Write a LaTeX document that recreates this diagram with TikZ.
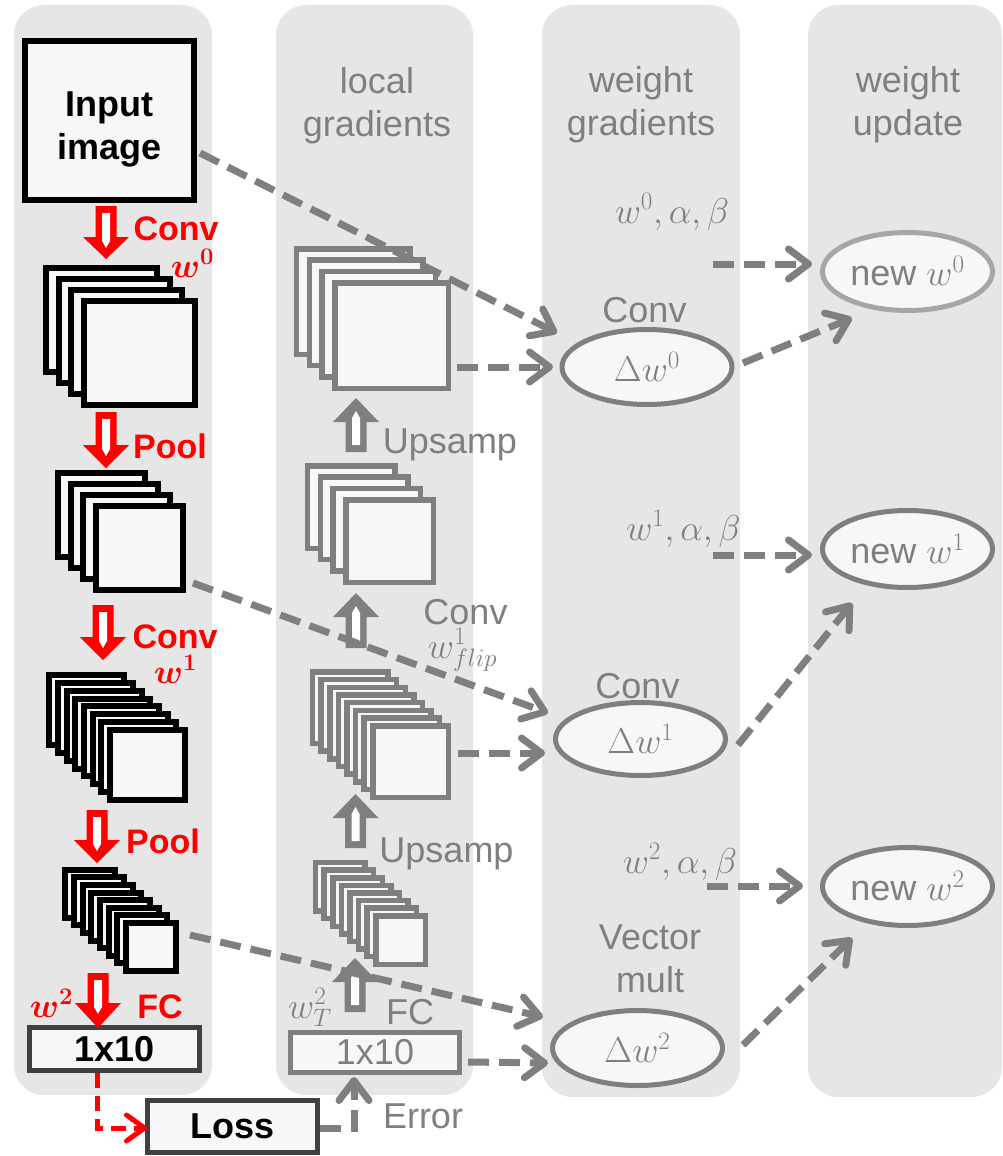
\RequirePackage{fix-cm}
\documentclass[tikz,border=0pt]{standalone}
\usepackage{amsmath}
\usepackage[no-math]{fontspec}
\setmainfont{Liberation Sans}
\usetikzlibrary{arrows.meta,shapes.geometric,calc}

\definecolor{panel}{HTML}{E6E6E6}
\definecolor{paper}{HTML}{F7F7F7}
\definecolor{ink}{HTML}{7F7F7F}
\definecolor{dark}{HTML}{404040}
\definecolor{pale}{HTML}{A6A6A6}

% stack of feature maps: name, style, back count, cx, cy, w, h, dx, dy
\newcommand{\featstack}[9]{%
  \foreach \k in {#3,...,1}{%
    \draw[#2] ({#4-\k*#8-#6/2},{#5-\k*#9-#7/2}) rectangle ++(#6,#7);
  }
  \node[#2, rectangle, minimum width=#6, minimum height=#7] (#1) at (#4,#5) {};
}

% hollow block arrow: colour, x, tail, head base, tip, direction (1 down, -1 up)
\newcommand{\blockarrow}[6]{%
  \fill[#1] ({#2-10.5},#3) -- ({#2-10.5},#4) -- ({#2-23},#4) -- (#2,#5)
    -- ({#2+23},#4) -- ({#2+10.5},#4) -- ({#2+10.5},#3) -- cycle;
  \fill[white] ({#2-4},{#3+7*(#6)}) -- ({#2-4},{#4+4*(#6)}) -- (#2,{#4+11*(#6)})
    -- ({#2+4},{#4+4*(#6)}) -- ({#2+4},{#3+7*(#6)}) -- cycle;
}

\begin{document}
\begin{tikzpicture}[x=1pt,y=-1pt,
  every node/.style={inner sep=0pt},
  txt/.style={font=\fontsize{36}{43}\selectfont, text=ink},
  btxt/.style={font=\bfseries\fontsize{36}{43}\selectfont, text=black},
  rtxt/.style={font=\bfseries\fontsize{34}{41}\selectfont, text=red},
  box/.style={rectangle, fill=paper, line width=5pt},
  oval/.style={ellipse, fill=paper, draw=ink, line width=5pt, minimum width=170pt, txt},
  bsq/.style={draw=black, fill=paper, line width=6pt},
  gsq/.style={draw=ink, fill=paper, line width=5.5pt},
  flow/.style={draw=ink, line width=7pt, dash pattern=on 21pt off 10pt,
    -{Straight Barb[length=20pt,width=30pt,round]}},
  lossflow/.style={draw=red, line width=5pt, dash pattern=on 15pt off 8pt,
    -{Straight Barb[length=18pt,width=26pt,round]}}]

\useasboundingbox (0,0) rectangle (1002,1156);

% column backgrounds
\fill[panel, rounded corners=30pt] (14,5) rectangle (212,1095);
\fill[panel, rounded corners=30pt] (276,5) rectangle (473,1095);
\fill[panel, rounded corners=30pt] (542,5) rectangle (740,1097);
\fill[panel, rounded corners=30pt] (808,5) rectangle (1002,1097);

% column headers
\node[txt, align=center] (hlocal) at (377,105.4) {local\\gradients};
\node[txt, align=center] (hgrad) at (641,104.4) {weight\\gradients};
\node[txt, align=center] (hupd) at (908,104.4) {weight\\update};

% forward pass
\node[box, draw=black, line width=6pt, minimum width=169pt, minimum height=159pt] (in) at (109.5,120.5) {};
\node[btxt, align=center] (intext) at (109.5,129.4) {Input\\image};
\featstack{s1}{bsq}{3}{139.5}{353}{111}{104}{12.7}{11}
\featstack{s2}{bsq}{3}{139.5}{548}{87}{84}{12.7}{11}
\featstack{s3}{bsq}{7}{147.5}{765}{75}{70}{8.7}{7.85}
\featstack{s4}{bsq}{7}{151}{947}{50}{48}{8.7}{7.6}
\node[box, draw=dark, minimum width=170pt, minimum height=43pt, btxt] (b10) at (114.5,1049) {1x10};
\node[box, draw=dark, minimum width=170pt, minimum height=52pt, btxt] (loss) at (232.5,1126.5) {Loss};

\blockarrow{red}{106}{206}{237}{259}{1}
\blockarrow{red}{106}{412}{445}{468}{1}
\blockarrow{red}{103}{605}{637}{660}{1}
\blockarrow{red}{97}{810}{840}{863}{1}
\blockarrow{red}{98}{973}{1003}{1028}{1}

% local gradients
\featstack{gD}{gsq}{3}{391.5}{335.5}{113.5}{105.5}{12.7}{11.3}
\featstack{gC}{gsq}{3}{389.5}{541}{87.5}{82.5}{12.7}{11.3}
\featstack{gB}{gsq}{7}{410.5}{761.5}{75.5}{71.5}{8.6}{7.7}
\featstack{gA}{gsq}{7}{400.5}{940}{49.5}{48.5}{8.6}{7.6}
\node[box, draw=ink, minimum width=169pt, minimum height=40pt, txt] (g10) at (375,1052.5) {1x10};

\blockarrow{ink}{355}{1012}{982}{958}{-1}
\blockarrow{ink}{355.5}{848}{818}{794}{-1}
\blockarrow{ink}{356}{648}{617}{593}{-1}
\blockarrow{ink}{356}{452}{422}{398}{-1}

% weight gradients and updates
\node[oval, minimum height=75pt] (d0) at (647,367) {$\Delta w^0$};
\node[oval, minimum height=73pt] (d1) at (640.5,739) {$\Delta w^1$};
\node[oval, minimum height=75pt] (d2) at (637.5,1048) {$\Delta w^2$};
\node[oval, draw=pale, minimum height=78pt] (n0) at (907.5,271.5) {new $w^0$};
\node[oval, minimum height=77pt] (n1) at (907.5,549) {new $w^1$};
\node[oval, minimum height=78pt] (n2) at (907.5,886.5) {new $w^2$};

\coordinate (q0) at (713,264);
\coordinate (q1) at (713,555);
\coordinate (q2) at (707,886);

% connectors
\draw[flow] ($(in.east)+(3,32.5)$) -- ($(d0.west)+(-2.5,-34)$);
\draw[flow] ($(gD.east)+(6,31.5)$) -- ($(d0.west)+(-6.5,0)$);
\draw[flow] ($(s2.east)+(7,35)$) -- ($(d1.west)+(-5,-26)$);
\draw[flow] ($(gB.east)+(7,-8.5)$) -- ($(d1.west)+(-8,14)$);
\draw[flow] ($(s4.east)+(11,-12)$) -- ($(d2.west)+(-7,-31)$);
\draw[flow] ($(g10.east)+(6,9.5)$) -- ($(d2.west)+(-2,15)$);
\draw[flow] ($(d0.east)+(8.5,-4)$) -- ($(n0.south)+(-55.5,5)$);
\draw[flow] ($(d1.east)+(10,6)$) -- ($(n1.south)+(-55.5,13)$);
\draw[flow] ($(d2.east)+(18,-3)$) -- ($(n2.south)+(-55.5,10)$);
\draw[flow] (q0) -- ($(n0.west)+(-8,-7.5)$);
\draw[flow] (q1) -- ($(n1.west)+(-8,6)$);
\draw[flow] (q2) -- ($(n2.west)+(-17,-0.5)$);
\draw[lossflow] ($(b10.south)+(-17.5,0)$) |- ($(loss.west)+(2,1.5)$);
\draw[flow] ($(loss.east)+(0,1.5)$) -| ($(g10.south)+(-21,2)$);

% operation labels
\node[rtxt, anchor=base] (lconv0) at (176,240) {Conv};
\node[rtxt, anchor=base] (lw0) at (192.5,277) {$\boldsymbol{w^0}$};
\node[rtxt, anchor=base] (lpool0) at (170,458) {Pool};
\node[rtxt, anchor=base] (lconv1) at (175,648) {Conv};
\node[rtxt, anchor=base] (lw1) at (175.5,683) {$\boldsymbol{w^1}$};
\node[rtxt, anchor=base] (lpool1) at (163,853) {Pool};
\node[rtxt, anchor=base] (lw2) at (51.5,1017) {$\boldsymbol{w^2}$};
\node[rtxt, anchor=base] (lfc) at (160,1018) {FC};

\node[txt, anchor=base] (lup0) at (450,453) {Upsamp};
\node[txt, anchor=base] (lconvb) at (465.5,624) {Conv};
\node[txt, anchor=base] (lflip) at (462.5,658) {$w^1_{flip}$};
\node[txt, anchor=base] (lup1) at (446.5,862) {Upsamp};
\node[txt, anchor=base] (lwt) at (310,1018) {$w^2_T$};
\node[txt, anchor=base] (lfcb) at (410,1024) {FC};
\node[txt, anchor=base] (lerr) at (423,1128) {Error};

\node[txt, anchor=base] (lc0) at (644.5,322) {Conv};
\node[txt, anchor=base] (p0) at (672,223) {$w^0,\alpha,\beta$};
\node[txt, anchor=base] (lc1) at (637.5,698) {Conv};
\node[txt, anchor=base] (p1) at (683.5,540) {$w^1,\alpha,\beta$};
\node[txt, align=center] (lvec) at (650,958.6) {Vector\\mult};
\node[txt, anchor=base] (p2) at (680,873) {$w^2,\alpha,\beta$};

\end{tikzpicture}
\end{document}
